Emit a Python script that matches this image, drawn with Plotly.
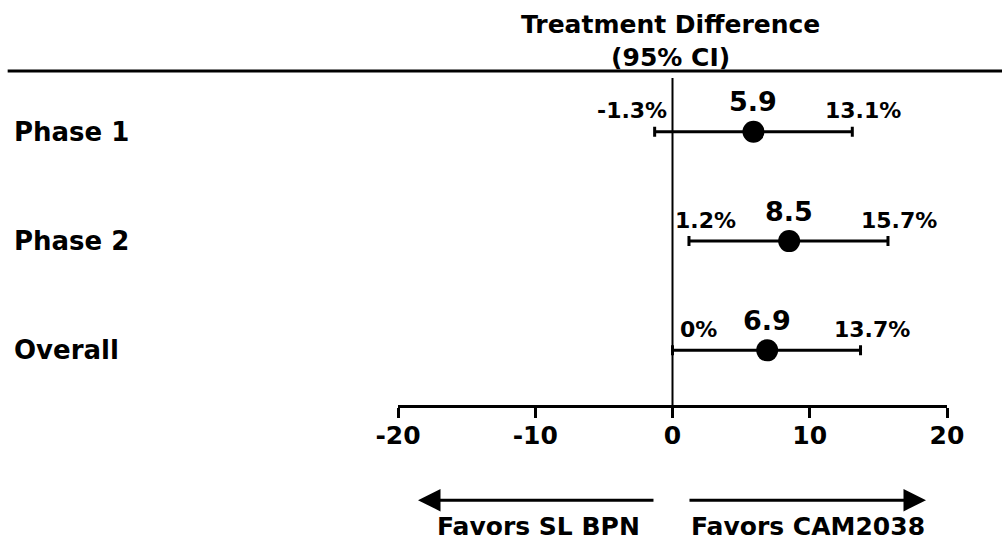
import plotly.graph_objects as go

# Forest plot data: treatment difference with 95% CI per study phase
rows = ["Phase 1", "Phase 2", "Overall"]
row_pos = [3, 2, 1]
estimate = [5.9, 8.5, 6.9]
ci_low = [-1.3, 1.2, 0.0]
ci_high = [13.1, 15.7, 13.7]
x_ticks = [-20, -10, 0, 10, 20]

# label placement helpers (pixels)
low_label_shift = [-23, 17, 26]
high_label_shift = 11

FONT = "DejaVu Sans"
BLACK = "#000000"

fig = go.Figure()

fig.add_trace(go.Scatter(
    x=estimate,
    y=row_pos,
    mode="markers",
    marker=dict(color=BLACK, size=22, symbol="circle"),
    error_x=dict(
        type="data",
        symmetric=False,
        array=[h - e for h, e in zip(ci_high, estimate)],
        arrayminus=[e - l for e, l in zip(estimate, ci_low)],
        color=BLACK,
        thickness=3,
        width=5,
    ),
    showlegend=False,
    hoverinfo="skip",
))

annotations = []
for i, name in enumerate(rows):
    # row label on the left
    annotations.append(dict(
        text=name, xref="paper", x=-0.703, xanchor="left",
        yref="y", y=row_pos[i], yanchor="middle", showarrow=False,
        font=dict(family=FONT, size=26, color=BLACK, weight=700),
    ))
    # point estimate
    annotations.append(dict(
        text=f"{estimate[i]:.1f}", x=estimate[i], y=row_pos[i],
        xref="x", yref="y", yshift=30, showarrow=False,
        font=dict(family=FONT, size=27, color=BLACK, weight=700),
    ))
    # lower bound
    annotations.append(dict(
        text=f"{ci_low[i]:g}%", x=ci_low[i], y=row_pos[i],
        xref="x", yref="y", yshift=21, xshift=low_label_shift[i], showarrow=False,
        font=dict(family=FONT, size=22, color=BLACK, weight=700),
    ))
    # upper bound
    annotations.append(dict(
        text=f"{ci_high[i]:g}%", x=ci_high[i], y=row_pos[i],
        xref="x", yref="y", yshift=21, xshift=high_label_shift, showarrow=False,
        font=dict(family=FONT, size=22, color=BLACK, weight=700),
    ))

# column heading
annotations.append(dict(
    text="Treatment Difference<br>(95% CI)", x=0, xref="x", xshift=-2,
    y=1.088, yref="paper", yanchor="middle", showarrow=False,
    font=dict(family=FONT, size=25, color=BLACK, weight=700),
))

# direction arrows beneath the axis (tip in paper coords, tail offset in px)
arrow_y = -0.284
annotations.append(dict(
    text="", x=0.0364, y=arrow_y, xref="paper", yref="paper",
    ax=237, ay=0, axref="pixel", ayref="pixel",
    showarrow=True, arrowhead=2, arrowsize=1.5, arrowwidth=3,
    arrowcolor=BLACK, standoff=0, startstandoff=0,
))
annotations.append(dict(
    text="", x=0.9617, y=arrow_y, xref="paper", yref="paper",
    ax=-238, ay=0, axref="pixel", ayref="pixel",
    showarrow=True, arrowhead=2, arrowsize=1.5, arrowwidth=3,
    arrowcolor=BLACK, standoff=0, startstandoff=0,
))
annotations.append(dict(
    text="Favors SL BPN", x=-9.73, y=-0.4115, xref="x", yref="paper",
    showarrow=False, yanchor="bottom",
    font=dict(family=FONT, size=25, color=BLACK, weight=700),
))
annotations.append(dict(
    text="Favors CAM2038", x=9.88, y=-0.4115, xref="x", yref="paper",
    showarrow=False, yanchor="bottom",
    font=dict(family=FONT, size=25, color=BLACK, weight=700),
))

shapes = [
    # rule under the heading
    dict(type="line", xref="paper", yref="paper",
         x0=-0.711, x1=1.11, y0=0.997, y1=0.997,
         line=dict(color=BLACK, width=3)),
    # line of no difference
    dict(type="line", xref="x", yref="paper",
         x0=0, x1=0, y0=0, y1=0.976,
         line=dict(color=BLACK, width=2)),
]

fig.update_layout(
    width=1002, height=544,
    margin=dict(l=398, r=55, t=70, b=139),
    paper_bgcolor="white", plot_bgcolor="white",
    annotations=annotations,
    shapes=shapes,
    xaxis=dict(
        range=[-20, 20], tickvals=x_ticks, ticktext=[str(t) for t in x_ticks],
        showline=True, linecolor=BLACK, linewidth=3,
        ticks="outside", ticklen=10, tickwidth=3, tickcolor=BLACK,
        ticklabelstandoff=-4,
        tickfont=dict(family=FONT, size=25, color=BLACK, weight=700),
        showgrid=False, zeroline=False, fixedrange=True,
    ),
    yaxis=dict(
        range=[0.5, 3.566], visible=False, showgrid=False, zeroline=False,
        fixedrange=True,
    ),
)

fig.write_html("out.html")
